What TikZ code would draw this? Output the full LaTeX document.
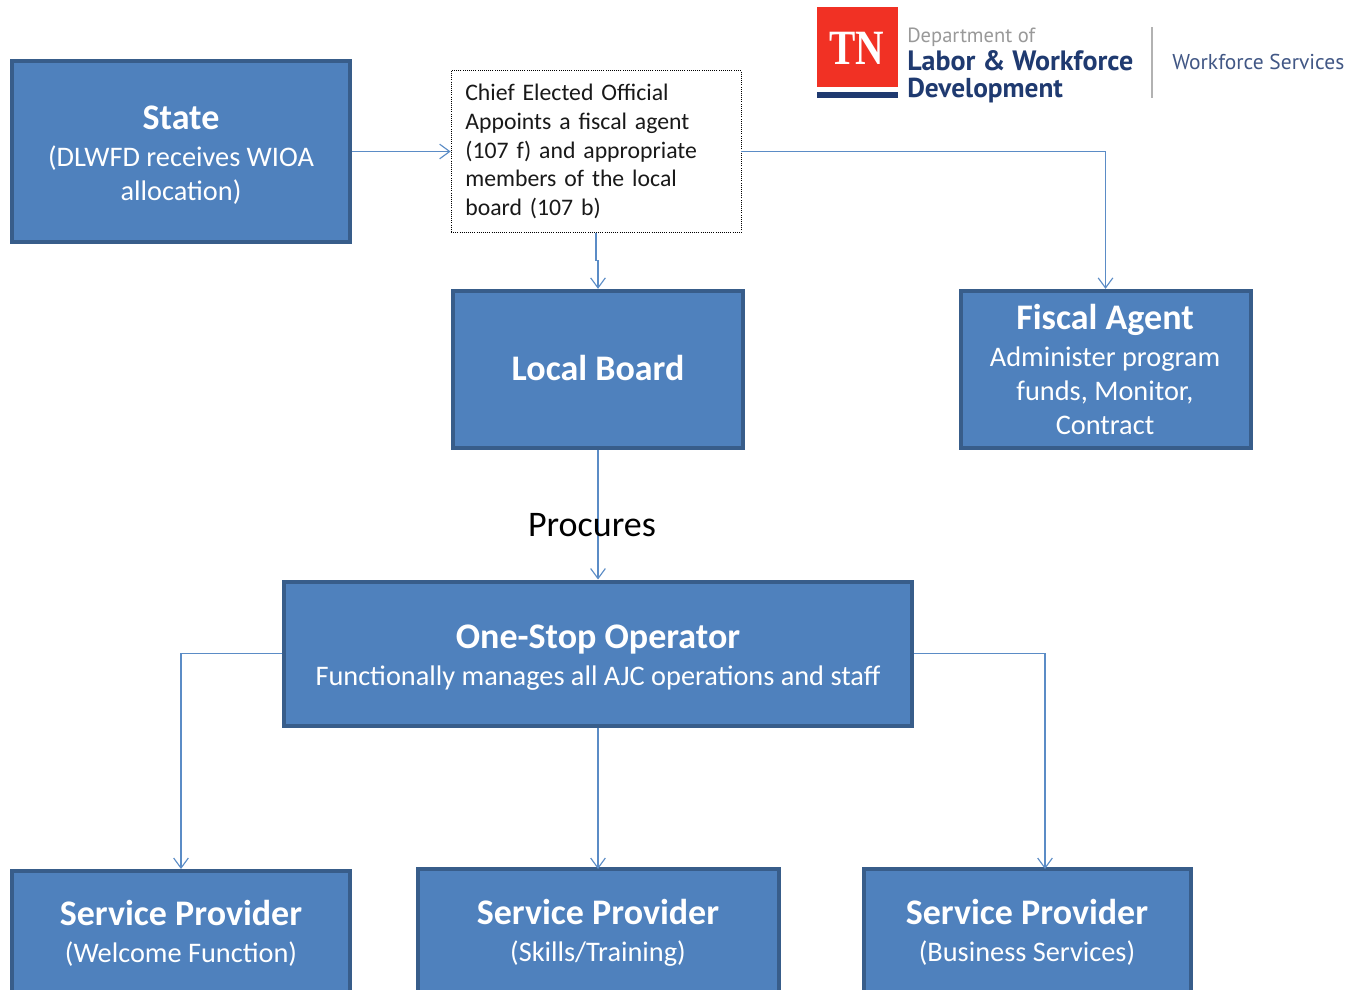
\documentclass[tikz,border=0pt]{standalone}
\usepackage{fontspec}
\usepackage{graphicx}
\setmainfont{Carlito}
\newfontfamily\ceofont[WordSpace=0.7]{Carlito}
\newfontfamily\logofont{PT Sans}
\newfontfamily\tnfont{Liberation Serif}
\usetikzlibrary{arrows.meta,calc}
\definecolor{boxfill}{HTML}{4F81BD}
\definecolor{boxedge}{HTML}{385D8A}
\definecolor{linkblue}{HTML}{5B8CC6}
\definecolor{navy}{HTML}{1F3A70}
\definecolor{tnred}{HTML}{F13124}
\newcommand{\boxhead}[1]{{\fontsize{27}{30}\selectfont\bfseries #1}}
\tikzset{
  bluebox/.style={draw=boxedge,fill=boxfill,line width=3pt,inner sep=0pt},
  boxtext/.style={text=white,align=center,inner sep=0pt,font=\fontsize{21.25}{25.5}\selectfont},
  ceobox/.style={draw=black,densely dotted,line width=.6pt,fill=white,align=left,inner sep=0pt,
    font=\ceofont\fontsize{17.8}{21.6}\selectfont,text=black!90},
  link/.style={draw=linkblue,line width=.85pt,-{Straight Barb[length=7.5pt,width=11pt,line width=.85pt]}},
  plain/.style={inner sep=0pt,anchor=west}
}
\begin{document}
\begin{tikzpicture}[x=.75pt,y=-.75pt]
\clip (0,0) rectangle (1362,989);
\fill[white] (0,0) rectangle (1362,989);
% boxes
\node[bluebox,minimum width=253.5pt,minimum height=136pt] (state) at (181,151.5) {};
\node[ceobox,minimum width=217.5pt,minimum height=121.5pt,text width=196pt] (ceo) at (596,151.5)
  {Chief Elected Official\\Appoints a fiscal agent\\(107 f) and appropriate\\members of the local\\board (107 b)};
\node[bluebox,minimum width=217pt,minimum height=118pt] (lb) at (598,369.5) {};
\node[bluebox,minimum width=217.5pt,minimum height=118pt] (fa) at (1105.5,369.5) {};
\node[bluebox,minimum width=471pt,minimum height=108pt] (oso) at (598,653.5) {};
\node[bluebox,minimum width=253.5pt,minimum height=96pt] (sp1) at (181,935) {};
\node[bluebox,minimum width=271pt,minimum height=96pt] (sp2) at (598.5,933) {};
\node[bluebox,minimum width=245pt,minimum height=96pt] (sp3) at (1027.5,933) {};
% box texts
\node[boxtext] (statet) at (181,155.5) {\boxhead{State}\\[2.25pt](DLWFD receives WIOA\\allocation)};
\node[boxtext] (lbt) at (598,368) {\boxhead{Local Board}};
\node[boxtext] (fat) at (1105,369.5) {\boxhead{Fiscal Agent}\\[2.25pt]Administer program\\funds, Monitor,\\Contract};
\node[boxtext] (osot) at (598,657.5) {\boxhead{One-Stop Operator}\\[2.25pt]Functionally manages all AJC operations and staff};
\node[boxtext] (sp1t) at (181,933.5) {\boxhead{Service Provider}\\[2.25pt](Welcome Function)};
\node[boxtext] (sp2t) at (598,932.5) {\boxhead{Service Provider}\\[2.25pt](Skills/Training)};
\node[boxtext] (sp3t) at (1027,932.5) {\boxhead{Service Provider}\\[2.25pt](Business Services)};
\coordinate (sp2in) at (598,869);
\coordinate (sp3in) at (1045,869);
% connectors
\draw[link] (state.east) -- (ceo.west);
\draw[link] (ceo.east) -| (fa.north);
\draw[link] (ceo.south) |- ($(ceo.south)!.5!(lb.north)$) -| (lb.north);
\draw[link] (lb.south) -- (oso.north);
\draw[link] (oso.west) -| (sp1.north);
\draw[link] (oso.south) -- (sp2in);
\draw[link] (oso.east) -| (sp3in);
\node[inner sep=0pt,font=\fontsize{27}{32}\selectfont] (proc) at (592,525.5) {Procures};
% logo
\node[fill=tnred,minimum width=60.75pt,minimum height=60pt,inner sep=0pt,anchor=north west] (tnbox) at (817,7) {};
\node[fill=navy,minimum width=60.75pt,minimum height=5pt,inner sep=0pt,anchor=north west] (tnbar) at (817,91.5) {};
\node[inner sep=0pt,text=white,font=\tnfont\bfseries\fontsize{37}{40}\selectfont] (tn) at (857,48) {\scalebox{.8}[1]{TN}};
\node[plain,text=gray!80,font=\logofont\fontsize{15.4}{18}\selectfont] (dep) at (907,37.5) {Department of};
\node[plain,text=navy,font=\logofont\bfseries\fontsize{21}{24}\selectfont] (lab) at (907,61) {Labor \& Workforce};
\node[plain,text=navy,font=\logofont\bfseries\fontsize{20.5}{24}\selectfont] (dev) at (907,90.5) {Development};
\coordinate (sepa) at (1152,27);
\coordinate (sepb) at (1152,98);
\draw[gray!60,line width=.9pt] (sepa) -- (sepb);
\node[plain,text=navy!85,font=\logofont\fontsize{16.1}{19}\selectfont] (ws) at (1172,62) {Workforce Services};
\end{tikzpicture}
\end{document}
